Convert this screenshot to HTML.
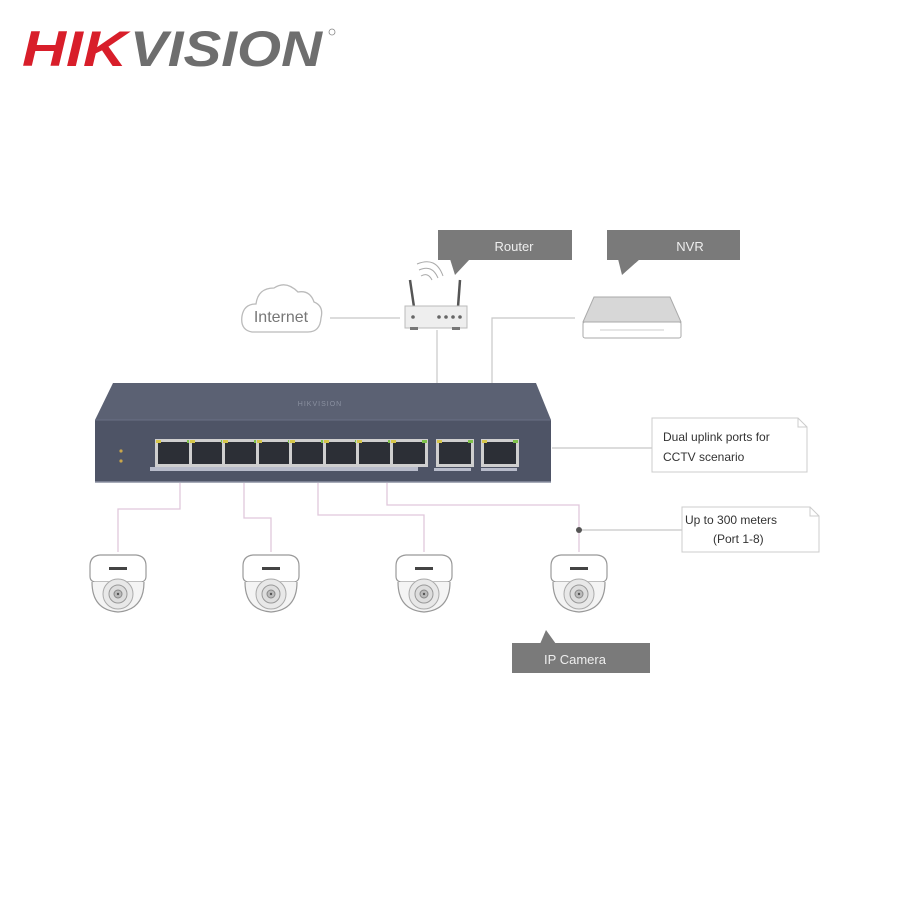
<!DOCTYPE html>
<html><head><meta charset="utf-8"><style>
html,body{margin:0;padding:0;background:#fff;}
svg{display:block}
text{font-family:"Liberation Sans",sans-serif}
</style></head><body>
<svg width="900" height="900" viewBox="0 0 900 900" xmlns="http://www.w3.org/2000/svg">
<defs>
<g id="cam">
  <path d="M-28,-14 Q-28,-24 -18,-25 L18,-25 Q28,-24 28,-14 L28,-4 Q28,2 22,2 L-22,2 Q-28,2 -28,-4 Z" fill="#fff" stroke="#999" stroke-width="1.2"/>
  <rect x="-9" y="-13" width="18" height="3" fill="#444"/>
  <path d="M-26,2 Q-26,30 0,32 Q26,30 26,2" fill="#f4f4f4" stroke="#999" stroke-width="1.2"/>
  <ellipse cx="0" cy="14" rx="15" ry="15" fill="#e8e8e8" stroke="#aaa" stroke-width="1"/>
  <circle cx="0" cy="14" r="9" fill="#ddd" stroke="#999" stroke-width="1"/>
  <circle cx="0" cy="14" r="4" fill="#bbb" stroke="#888" stroke-width="1"/>
  <circle cx="0" cy="14" r="1.2" fill="#555"/>
</g>
<g id="port">
  <rect x="0" y="0" width="38" height="28" fill="#cfcfcf"/>
  <rect x="3" y="3" width="32" height="22" fill="#2c2f36"/>
  <rect x="1" y="1" width="5" height="3" fill="#d6c64a"/>
  <rect x="32" y="1" width="5" height="3" fill="#7fc24a"/>
</g>
</defs>

<!-- logo -->
<text x="22" y="66" font-size="50" font-weight="bold" font-style="italic" fill="#d81e2a" textLength="105" lengthAdjust="spacingAndGlyphs">HIK</text>
<text x="130" y="66" font-size="50" font-weight="bold" font-style="italic" fill="#6e6e6e" textLength="192" lengthAdjust="spacingAndGlyphs">VISION</text>
<circle cx="332" cy="32" r="3" fill="none" stroke="#888" stroke-width="0.8"/>

<!-- connectors top -->
<g stroke="#c8c8c8" stroke-width="1.2" fill="none">
  <line x1="330" y1="318" x2="400" y2="318"/>
  <line x1="437" y1="330" x2="437" y2="384"/>
  <polyline points="492,384 492,318 575,318"/>
  <line x1="552" y1="448" x2="652" y2="448"/>
  <line x1="580" y1="530" x2="682" y2="530"/>
</g>
<!-- pink camera lines -->
<g stroke="#e0c8dc" stroke-width="1.3" fill="none">
  <polyline points="180,483 180,509 118,509 118,552"/>
  <polyline points="244,483 244,518 271,518 271,552"/>
  <polyline points="318,483 318,515 424,515 424,552"/>
  <polyline points="387,483 387,505 579,505 579,552"/>
</g>
<circle cx="579" cy="530" r="3" fill="#555"/>

<!-- labels -->
<rect x="438" y="230" width="134" height="30" fill="#7a7a7a"/>
<polygon points="450,259 470,259 455,275" fill="#7a7a7a"/>
<text x="514" y="251" font-size="13" fill="#eee" text-anchor="middle">Router</text>
<rect x="607" y="230" width="133" height="30" fill="#7a7a7a"/>
<polygon points="618,259 640,259 622,275" fill="#7a7a7a"/>
<text x="690" y="251" font-size="13" fill="#eee" text-anchor="middle">NVR</text>
<rect x="512" y="643" width="138" height="30" fill="#7a7a7a"/>
<polygon points="540,644 556,644 546,630" fill="#7a7a7a"/>
<text x="575" y="664" font-size="13" fill="#eee" text-anchor="middle">IP Camera</text>

<path d="M652,418 L798,418 L807,427 L807,472 L652,472 Z" fill="#fff" stroke="#ccc" stroke-width="1"/>
<path d="M798,418 L798,427 L807,427" fill="none" stroke="#ccc"/>
<text x="663" y="441" font-size="12" fill="#333">Dual uplink ports for</text>
<text x="663" y="461" font-size="12" fill="#333">CCTV scenario</text>
<path d="M682,507 L810,507 L819,516 L819,552 L682,552 Z" fill="#fff" stroke="#ccc" stroke-width="1"/>
<path d="M810,507 L810,516 L819,516" fill="none" stroke="#ccc"/>
<text x="685" y="524" font-size="12" fill="#333">Up to 300 meters</text>
<text x="713" y="543" font-size="12" fill="#333">(Port 1-8)</text>

<!-- cloud -->
<path d="M252,332 Q240,330 242,316 Q244,304 256,304 Q258,288 274,288 Q286,280 298,292 Q310,290 314,302 Q324,306 321,318 Q320,332 308,332 Z" fill="#fff" stroke="#bbb" stroke-width="1.3"/>
<text x="281" y="322" font-size="16" fill="#777" text-anchor="middle">Internet</text>

<!-- router -->
<line x1="414" y1="307" x2="410" y2="280" stroke="#555" stroke-width="2.5"/>
<line x1="458" y1="307" x2="460" y2="280" stroke="#555" stroke-width="2.5"/>
<path d="M421,276 Q428,272 432,280 M419,270 Q432,264 438,278 M417,264 Q436,256 443,276" fill="none" stroke="#aaa" stroke-width="1"/>
<rect x="405" y="306" width="62" height="22" fill="#eee" stroke="#bbb"/>
<rect x="410" y="327" width="8" height="3" fill="#777"/><rect x="452" y="327" width="8" height="3" fill="#777"/>
<circle cx="413" cy="317" r="1.8" fill="#666"/>
<circle cx="439" cy="317" r="1.8" fill="#666"/><circle cx="446" cy="317" r="1.8" fill="#666"/><circle cx="453" cy="317" r="1.8" fill="#666"/><circle cx="460" cy="317" r="1.8" fill="#666"/>

<!-- NVR -->
<path d="M594,297 L670,297 L681,322 L583,322 Z" fill="#d7d7d7" stroke="#aaa"/>
<rect x="583" y="322" width="98" height="16" rx="2" fill="#fff" stroke="#aaa"/>
<line x1="600" y1="330" x2="664" y2="330" stroke="#ccc"/>

<!-- switch -->
<path d="M113,383 L536,383 L551,420 L95,420 Z" fill="#5b6173"/>
<text x="320" y="406" font-size="7" fill="#8a90a0" text-anchor="middle" letter-spacing="1">HIKVISION</text>
<rect x="95" y="420" width="456" height="62" fill="#4e5466"/>
<line x1="95" y1="420" x2="551" y2="420" stroke="#6a7084"/>
<line x1="95" y1="482" x2="551" y2="482" stroke="#8a8fa0" stroke-width="1.5"/>
<circle cx="121" cy="451" r="1.6" fill="#c9a64a"/><circle cx="121" cy="461" r="1.6" fill="#c9a64a"/>
<rect x="150" y="467" width="268" height="4" fill="#b8bccb"/>
<rect x="434" y="468" width="37" height="3" fill="#b8bccb"/>
<rect x="481" y="468" width="36" height="3" fill="#b8bccb"/>
<use href="#port" x="155" y="439"/>
<use href="#port" x="189" y="439"/>
<use href="#port" x="222" y="439"/>
<use href="#port" x="256" y="439"/>
<use href="#port" x="289" y="439"/>
<use href="#port" x="323" y="439"/>
<use href="#port" x="356" y="439"/>
<use href="#port" x="390" y="439"/>
<use href="#port" x="436" y="439"/>
<use href="#port" x="481" y="439"/>

<!-- cameras -->
<use href="#cam" x="118" y="580"/>
<use href="#cam" x="271" y="580"/>
<use href="#cam" x="424" y="580"/>
<use href="#cam" x="579" y="580"/>
</svg>
</body></html>
